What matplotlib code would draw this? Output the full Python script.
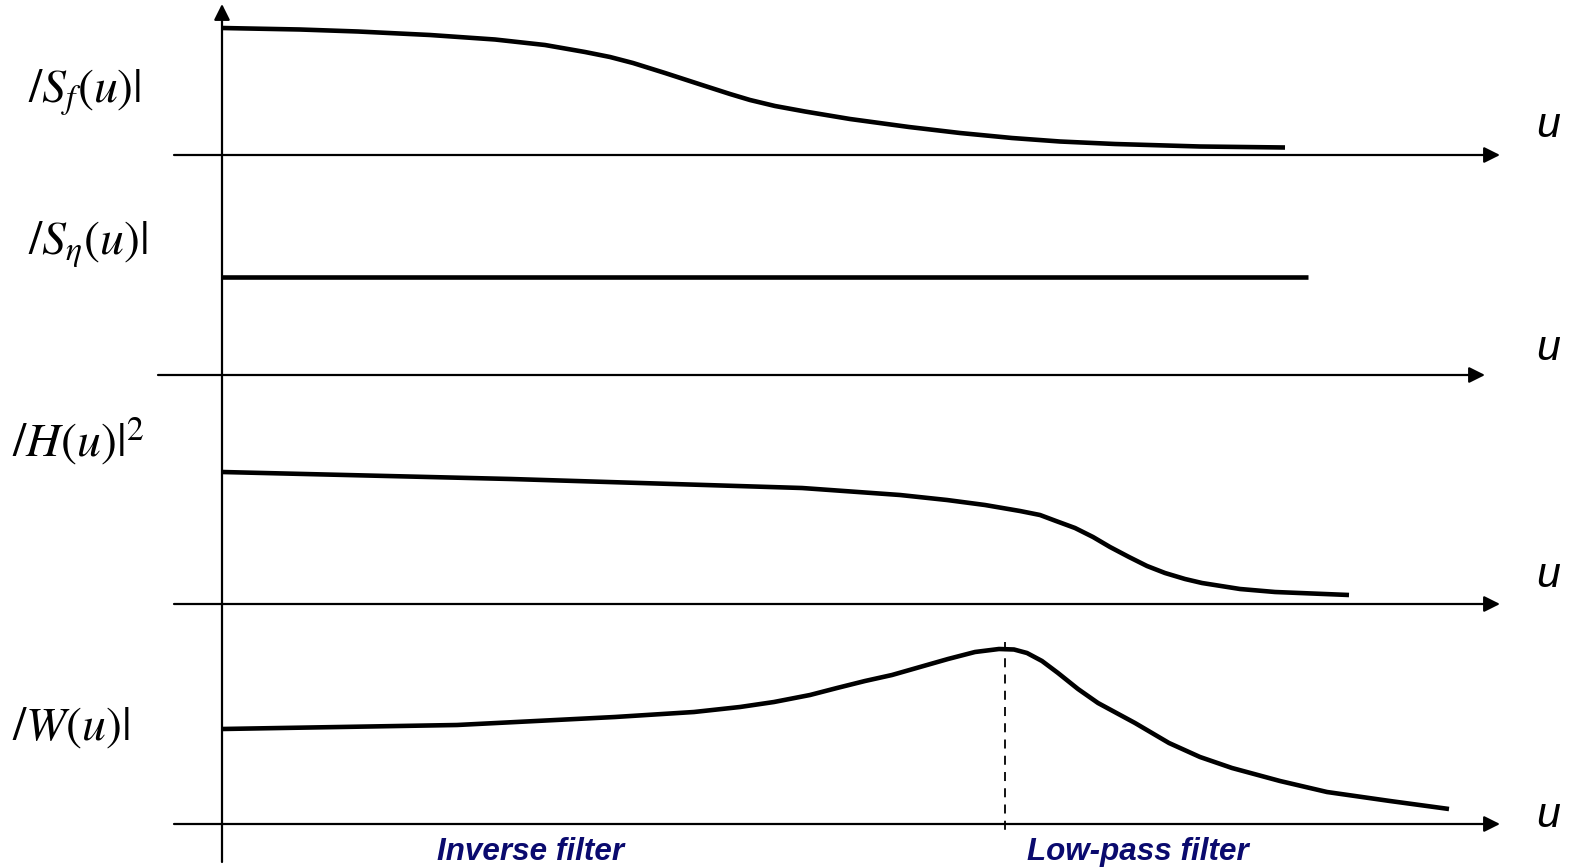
import numpy as np
import matplotlib.pyplot as plt

plt.rcParams['mathtext.fontset'] = 'stix'

# schematic curves (x, y in pixel units, y grows downward)
sf_x = [222, 300, 358, 430, 495, 545, 585, 610, 633, 665, 702, 730, 750, 775, 805,
        850, 909, 960, 1012, 1060, 1115, 1200, 1285]
sf_y = [28, 29.5, 31.5, 35, 39.5, 45, 52, 57, 63, 73, 85, 94, 100, 106, 111.5,
        119, 127, 133, 138, 141.5, 144, 146.5, 147.5]

seta_x = [222, 1308]
seta_y = [277, 277]

h_x = [222, 511, 802, 900, 947, 985, 1020, 1040, 1056, 1075, 1093, 1110, 1129,
       1147, 1165, 1185, 1202, 1240, 1275, 1349]
h_y = [472, 479, 488, 495, 500, 505, 511, 515, 521, 528, 537, 547, 557,
       566, 573, 579, 583, 589, 592, 595]

w_x = [222, 457, 615, 694, 740, 774, 810, 837, 865, 892, 920, 948, 975, 999,
       1014, 1027, 1042, 1058, 1078, 1098, 1135, 1169, 1200, 1232, 1280, 1327,
       1390, 1449]
w_y = [729, 725, 717, 712, 707, 702, 695, 688, 681, 675, 667, 659, 652, 649,
       649.5, 653, 661, 673, 689, 703, 723, 743, 757, 768, 781, 792, 801, 809]

axis_rows = [155, 375, 604, 824]
axis_starts = [174, 158, 174, 174]
axis_ends = [1500, 1485, 1500, 1500]

row_labels = [r'$/S_f(u)|$', r'$/S_\eta(u)|$', r'$/H(u)|^2$', r'$/W(u)|$']
row_label_pos = [(28, 93), (28, 245), (12, 441), (12, 726)]
u_label_y = [126, 349, 576, 816]

peak_x = 1005
bottom_labels = ['Inverse filter', 'Low-pass filter']
bottom_label_x = [531, 1138]

fig = plt.figure(figsize=(15.69, 8.67), dpi=100)
ax = fig.add_axes([0, 0, 1, 1])
ax.set_xlim(0, 1569)
ax.set_ylim(867, 0)
ax.axis('off')

arrow = dict(arrowstyle='-|>', mutation_scale=24, lw=1.6, color='black',
             shrinkA=0, shrinkB=0)

# vertical axis
ax.annotate('', xy=(222, 4), xytext=(222, 862), arrowprops=arrow)

# horizontal axes and the "u" labels
for y, x0, x1, uy in zip(axis_rows, axis_starts, axis_ends, u_label_y):
    ax.annotate('', xy=(x1, y), xytext=(x0, y), arrowprops=arrow)
    ax.text(1548, uy, 'u', fontsize=31, style='italic', family='Liberation Sans',
            ha='center', va='center')

# curves
for xs, ys in [(sf_x, sf_y), (seta_x, seta_y), (h_x, h_y), (w_x, w_y)]:
    ax.plot(xs, ys, color='black', lw=3.3, solid_capstyle='butt',
            solid_joinstyle='round')

# dashed line under the peak of W
ax.plot([peak_x, peak_x], [642, 834], color='black', lw=1.3, ls=(0, (5, 4)))

# row labels
for lab, (x, y) in zip(row_labels, row_label_pos):
    ax.text(x, y, lab, fontsize=34.5, ha='left', va='center')

for lab, x in zip(bottom_labels, bottom_label_x):
    ax.text(x, 852, lab, fontsize=22.6, fontweight='bold', style='italic',
            family='Liberation Sans', color='#0a0a6e', ha='center', va='center')

fig.savefig('out.png', dpi=100)
